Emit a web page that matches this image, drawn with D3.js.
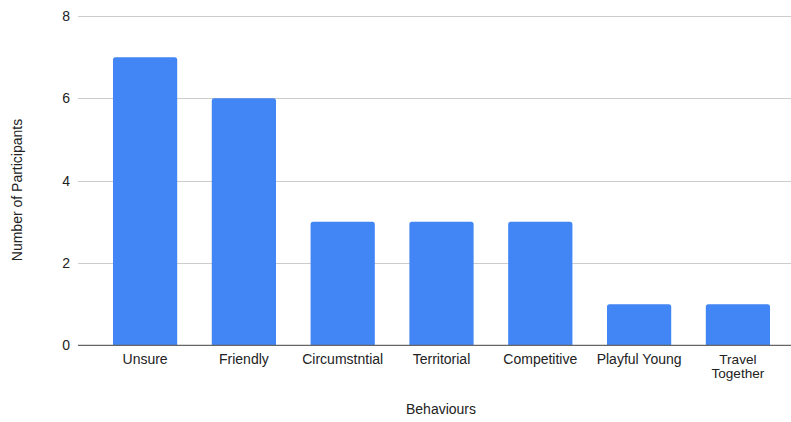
<!DOCTYPE html>
<html>
<head>
<meta charset="utf-8">
<script src="https://cdn.jsdelivr.net/npm/d3@7"></script>
<style>
  html, body { margin: 0; padding: 0; background: #fff; }
  svg { display: block; font-family: "Liberation Sans", Arial, sans-serif; }
</style>
</head>
<body>
<svg id="chart" width="791" height="422"></svg>
<script>
// Behaviour categories and participant counts
const categories = ["Unsure", "Friendly", "Circumstntial", "Territorial", "Competitive", "Playful Young", "Travel Together"];
const participants = [7, 6, 3, 3, 3, 1, 1];
const yTicks = [0, 2, 4, 6, 8];
const xTitle = "Behaviours";
const yTitle = "Number of Participants";

const svg = d3.select("#chart");

const x = d3.scaleBand()
  .domain(categories)
  .range([78, 805])
  .paddingInner(0.35)
  .paddingOuter(0.354);

const y = d3.scaleLinear()
  .domain([0, 8])
  .range([345.3, 16]);

// horizontal gridlines
svg.append("g")
  .selectAll("line")
  .data(yTicks.filter(d => d !== 0))
  .join("line")
  .attr("x1", 78).attr("x2", 805)
  .attr("y1", d => Math.round(y(d)) + 0.5)
  .attr("y2", d => Math.round(y(d)) + 0.5)
  .attr("stroke", "#cccccc")
  .attr("stroke-width", 1);

// y tick labels
svg.append("g")
  .selectAll("text")
  .data(yTicks)
  .join("text")
  .attr("x", 70)
  .attr("y", d => y(d) + 5)
  .attr("text-anchor", "end")
  .attr("font-size", 14)
  .attr("fill", "#222")
  .text(d => d);

// bars with slightly rounded tops
const r = 2.5;
svg.append("g")
  .selectAll("path")
  .data(categories.map((c, i) => ({ c, v: participants[i] })))
  .join("path")
  .attr("fill", "#4285f4")
  .attr("d", d => {
    const x0 = x(d.c), w = x.bandwidth();
    const yt = y(d.v), yb = y(0);
    return `M${x0},${yb} V${yt + r} Q${x0},${yt} ${x0 + r},${yt} H${x0 + w - r} Q${x0 + w},${yt} ${x0 + w},${yt + r} V${yb} Z`;
  });

// baseline
svg.append("line")
  .attr("x1", 78).attr("x2", 805)
  .attr("y1", y(0)).attr("y2", y(0))
  .attr("stroke", "#666")
  .attr("stroke-width", 1.3);

// x category labels; the long two-word label wraps onto two lines
svg.append("g")
  .selectAll("text")
  .data(categories)
  .join("text")
  .attr("x", d => x(d) + x.bandwidth() / 2)
  .attr("y", 364)
  .attr("text-anchor", "middle")
  .attr("font-size", d => d === "Travel Together" ? 13.6 : 14)
  .attr("fill", "#222")
  .each(function(d) {
    const t = d3.select(this);
    const lines = d === "Travel Together" ? d.split(" ") : [d];
    lines.forEach((ln, i) => {
      t.append("tspan")
        .attr("x", x(d) + x.bandwidth() / 2)
        .attr("dy", i === 0 ? 0 : 14.3)
        .text(ln);
    });
  });

// axis titles
svg.append("text")
  .attr("x", 441)
  .attr("y", 414)
  .attr("text-anchor", "middle")
  .attr("font-size", 14)
  .attr("fill", "#222")
  .text(xTitle);

svg.append("text")
  .attr("transform", "translate(22,190) rotate(-90)")
  .attr("text-anchor", "middle")
  .attr("font-size", 14)
  .attr("fill", "#222")
  .text(yTitle);
</script>
</body>
</html>
